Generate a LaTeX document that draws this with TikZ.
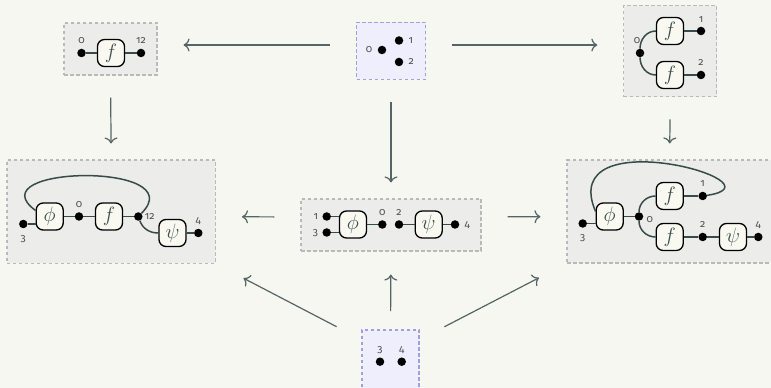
\documentclass[tikz,border=0pt]{standalone}
\usepackage{fontspec}
\usepackage{tikz}
\usetikzlibrary{arrows.meta, positioning}
\usepackage{xcolor}
\newfontfamily\labfont[Numbers=OldStyle]{Fira Sans}
\definecolor{BG}{RGB}{247,247,242}
\definecolor{GF}{RGB}{236,236,234}
\definecolor{GL}{RGB}{185,185,185}
\definecolor{PF}{RGB}{238,238,252}
\definecolor{PL}{RGB}{160,160,225}
\definecolor{WR}{RGB}{55,75,75}
\definecolor{AR}{RGB}{85,100,100}
\definecolor{GT}{RGB}{249,249,242}
\definecolor{TX}{RGB}{60,80,75}
\definecolor{LT}{RGB}{80,80,80}

\begin{document}
\begin{tikzpicture}[x=1pt, y=1pt,
  gbox/.style 2 args={draw=GL, fill=GF, dash pattern=on 3.5pt off 2.5pt,
                      line width=1.1pt, minimum width=#1, minimum height=#2},
  pbox/.style 2 args={draw=PL, fill=PF, dash pattern=on 3.5pt off 2.5pt,
                      line width=1.1pt, minimum width=#1, minimum height=#2},
  gate/.style={draw=black, fill=GT, rounded corners=7pt, line width=1.3pt,
               minimum size=27pt, inner sep=0pt, text=TX,
               font=\fontsize{20.74}{24}\selectfont},
  dot/.style={circle, fill=black, inner sep=0pt, minimum size=8.5pt},
  lab/.style={font=\labfont\fontsize{10.5}{12}\selectfont, text=LT, inner sep=0pt,
              text height=5.5pt, text depth=0pt},
  wire/.style={draw=WR, line width=1.5pt},
  arr/.style={-{Computer Modern Rightarrow[length=6pt, width=13pt]}, draw=AR, line width=1.2pt},
  harr/.style={arr, shorten <=26pt, shorten >=26pt},
  varr/.style={arr, shorten <=22pt, shorten >=16pt}
]
\path[use as bounding box, fill=BG] (0,0) rectangle (771,388);

% Boxes
\node[gbox={93pt}{52pt}]       (tlbox)  at (110.5,339) {};
\node[pbox={69pt}{57pt}]       (tmbox)  at (391,337)   {};
\node[gbox={93pt}{91pt}]       (trbox)  at (670.4,336.7) {};
\node[gbox={208.5pt}{103.3pt}] (mlbox)  at (111.2,176.3) {};
\node[gbox={180pt}{52pt}]      (mmbox)  at (391,163)   {};
\node[gbox={205pt}{103pt}]     (mrbox)  at (669.5,176.5) {};
\node[pbox={57pt}{60pt}]       (botbox) at (390.5,28)  {};

% Arrows between boxes
\draw[harr] ([yshift=6pt]tmbox.west) -- ([yshift=4pt]tlbox.east);
\draw[harr] ([yshift=6pt]tmbox.east) -- ([yshift=6.3pt]trbox.west);
\draw[varr] (tlbox.south) -- (mlbox.north);
\draw[varr] (tmbox.south) -- (mmbox.north);
\draw[varr] (trbox.south) -- (mrbox.north);
\draw[harr] ([yshift=8pt]mmbox.west) -- ([yshift=-5pt]mlbox.east);
\draw[harr] ([yshift=8pt]mmbox.east) -- ([yshift=-5pt]mrbox.west);
\draw[arr, shorten <=18.3pt, shorten >=23pt] (botbox.north) -- (mmbox.south);
\draw[arr, shorten <=28pt, shorten >=31pt] (botbox.145) -- (mlbox.south east);
\draw[arr, shorten <=28pt, shorten >=31pt] (botbox.35) -- (mrbox.south west);

% Top left
\node[dot]  (a0)  at (81.5,335) {};
\node[gate] (fa)  at (111,335)  {$f$};
\node[dot]  (a12) at (141,335)  {};
\node[lab, above=5pt of a0]  (a0l)  {0};
\node[lab, above=5pt of a12] (a12l) {12};
\draw[wire] (a0) -- (fa) -- (a12);

% Top middle
\node[dot] (b0) at (382,338)   {};
\node[dot] (b1) at (399,347.5) {};
\node[dot] (b2) at (399,326)   {};
\node[lab, left=5pt of b0]  (b0l) {0};
\node[lab, right=5pt of b1] (b1l) {1};
\node[lab, right=5pt of b2] (b2l) {2};

% Top right
\node[dot]  (c0) at (640,335) {};
\node[gate] (fu) at (670,357) {$f$};
\node[gate] (fl) at (670,313) {$f$};
\node[dot]  (c1) at (701,357) {};
\node[dot]  (c2) at (701,313) {};
\node[lab, above=5pt of c0, xshift=-3pt] (c0l) {0};
\node[lab, above=4pt of c1] (c1l) {1};
\node[lab, above=5pt of c2] (c2l) {2};
\draw[wire] (c0) to[out=90, in=180] (fu.west);
\draw[wire] (c0) to[out=-90, in=180] (fl.west);
\draw[wire] (fu) -- (c1);
\draw[wire] (fl) -- (c2);

% Middle left
\node[dot]  (d3)   at (23.3,164)   {};
\node[gate] (phil) at (49.7,171.5) {$\phi$};
\node[dot]  (d0)   at (79,171.5)   {};
\node[gate] (fm)   at (109,171.5)  {$f$};
\node[dot]  (d12)  at (138.3,171.5) {};
\node[gate] (psil) at (172.5,155)  {$\psi$};
\node[dot]  (d4)   at (198.3,155)  {};
\node[lab, below=7pt of d3]  (d3l)  {3};
\node[lab, above=4pt of d0]  (d0l)  {0};
\node[lab, right=2pt of d12] (d12l) {12};
\node[lab, above=5pt of d4]  (d4l)  {4};
\draw[wire] (d3) -- (d3 -| phil.west);
\draw[wire] ([yshift=6pt]phil.west) .. controls +(-61,45) and +(55,55) .. (d12);
\draw[wire] (phil) -- (d0) -- (fm) -- (d12);
\draw[wire] (d12) to[out=-70, in=180] (psil.west);
\draw[wire] (psil) -- (d4);

% Middle
\node[dot]  (e1)   at (326.7,171.5) {};
\node[dot]  (e3)   at (326.7,155.5) {};
\node[gate] (phim) at (353,163.5)   {$\phi$};
\node[dot]  (e0)   at (382.3,163.5) {};
\node[dot]  (e2)   at (399,163.5)   {};
\node[gate] (psim) at (428.7,163.5) {$\psi$};
\node[dot]  (e4)   at (455,163.5)   {};
\node[lab, left=4pt of e1]    (e1l) {1};
\node[lab, left=4pt of e3]    (e3l) {3};
\node[lab, above=4.5pt of e0] (e0l) {0};
\node[lab, above=4.5pt of e2] (e2l) {2};
\node[lab, right=5pt of e4]   (e4l) {4};
\draw[wire] (e1) -- (e1 -| phim.west);
\draw[wire] (e3) -- (e3 -| phim.west);
\draw[wire] (phim) -- (e0);
\draw[wire] (e2) -- (psim) -- (e4);

% Middle right
\node[dot]  (g3)   at (582.7,164.5) {};
\node[gate] (phir) at (609.7,171.5) {$\phi$};
\node[dot]  (g0)   at (639,171.5)   {};
\node[gate] (fru)  at (669.7,192)   {$f$};
\node[dot]  (g1)   at (702.7,192)   {};
\node[gate] (frl)  at (669.7,151)   {$f$};
\node[dot]  (g2)   at (702.7,151)   {};
\node[gate] (psir) at (733,151)     {$\psi$};
\node[dot]  (g4)   at (758.3,151)   {};
\node[lab, below=7pt of g3]               (g3l) {3};
\node[lab, right=3pt of g0, yshift=-3pt]  (g0l) {0};
\node[lab, above=5pt of g1]               (g1l) {1};
\node[lab, above=5pt of g2]               (g2l) {2};
\node[lab, above=5pt of g4]               (g4l) {4};
\draw[wire] (g3) -- (g3 -| phir.west);
\draw[wire] ([yshift=5pt]phir.west) .. controls +(-40,93.5) and +(87,13) .. (g1);
\draw[wire] (phir) -- (g0);
\draw[wire] (g0) to[out=90, in=180] (fru.west);
\draw[wire] (g0) to[out=-90, in=180] (frl.west);
\draw[wire] (fru) -- (g1);
\draw[wire] (frl) -- (g2) -- (psir) -- (g4);

% Bottom
\node[dot] (h3) at (380,26.3)   {};
\node[dot] (h4) at (401.7,26.3) {};
\node[lab, above=5pt of h3] (h3l) {3};
\node[lab, above=5pt of h4] (h4l) {4};
\end{tikzpicture}
\end{document}
